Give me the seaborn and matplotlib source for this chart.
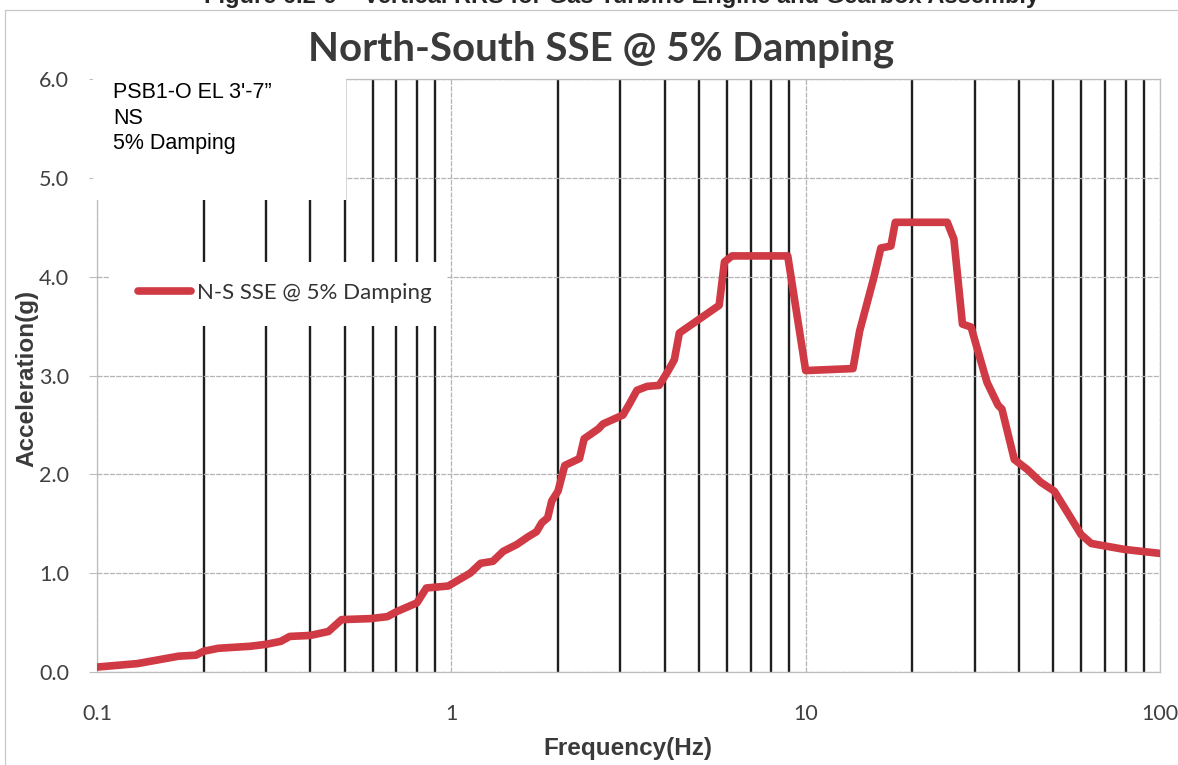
import numpy as np
import pandas as pd
import matplotlib
matplotlib.use("Agg")
import matplotlib.pyplot as plt
import seaborn as sns
from matplotlib.patches import Rectangle
from matplotlib.lines import Line2D
from matplotlib.ticker import FixedLocator, NullFormatter

# response spectrum
freq = [0.10, 0.13, 0.17, 0.19, 0.20, 0.22, 0.27, 0.30, 0.33, 0.35,
        0.40, 0.45, 0.49, 0.59, 0.66, 0.70, 0.80, 0.85, 0.98, 1.13,
        1.21, 1.31, 1.40, 1.53, 1.65, 1.74, 1.80, 1.87, 1.92, 2.00,
        2.09, 2.30, 2.37, 2.60, 2.68, 3.05, 3.19, 3.34, 3.57, 3.86,
        4.08, 4.26, 4.40, 5.70, 5.90, 6.20, 8.90, 10.0, 13.6, 14.2,
        15.6, 16.3, 17.4, 17.9, 25.1, 26.2, 27.7, 29.3, 30.5, 32.5,
        34.9, 35.8, 38.8, 42.2, 46.1, 50.3, 54.9, 59.9, 64.0, 79.5,
        100.0]
accel = [0.05, 0.085, 0.16, 0.17, 0.21, 0.24, 0.26, 0.28, 0.31, 0.36,
         0.37, 0.41, 0.53, 0.54, 0.56, 0.61, 0.70, 0.85, 0.87, 1.00,
         1.10, 1.12, 1.22, 1.29, 1.37, 1.42, 1.51, 1.56, 1.73, 1.83,
         2.09, 2.16, 2.36, 2.46, 2.51, 2.60, 2.72, 2.85, 2.89, 2.90,
         3.04, 3.16, 3.43, 3.71, 4.15, 4.21, 4.21, 3.05, 3.07, 3.45,
         4.00, 4.29, 4.31, 4.55, 4.55, 4.38, 3.52, 3.49, 3.27, 2.93,
         2.70, 2.66, 2.15, 2.05, 1.92, 1.83, 1.61, 1.39, 1.30, 1.24,
         1.20]

series_name = "N-S SSE @ 5% Damping"
x_ticks = [0.1, 1, 10, 100]
x_ticklabels = ["0.1", "1", "10", "100"]
y_ticks = [0, 1, 2, 3, 4, 5, 6]
note_lines = ["PSB1-O EL 3'-7\u201d", "NS", "5% Damping"]

df = pd.DataFrame({"Frequency": freq, "Acceleration": accel})

sns.set_style("white")
plt.rcParams["font.family"] = ["Lato", "DejaVu Sans"]
arial = ["Liberation Sans", "DejaVu Sans"]

W, H = 1178, 765
fig = plt.figure(figsize=(W / 100, H / 100), dpi=100)
ax = fig.add_axes([97 / W, 1 - 672 / H, 1063 / W, 593 / H])

red = "#d03a44"
sns.lineplot(data=df, x="Frequency", y="Acceleration", ax=ax, color=red,
             linewidth=5.5, estimator=None, sort=False, label=series_name,
             zorder=5, solid_capstyle="round", solid_joinstyle="round")

ax.set_xscale("log")
ax.set_xlim(0.1, 100)
ax.set_ylim(0, 6)
ax.xaxis.set_major_locator(FixedLocator(x_ticks))
ax.set_xticklabels(x_ticklabels)
minor = [m * d for d in [0.1, 1, 10] for m in range(2, 10)]
ax.xaxis.set_minor_locator(FixedLocator(minor))
ax.xaxis.set_minor_formatter(NullFormatter())
ax.set_yticks(y_ticks)
ax.set_yticklabels([f"{v:.1f}" for v in y_ticks])

# grid: light major lines, heavy black minor verticals
ax.grid(which="major", axis="both", color="#b4b4b4", linewidth=0.9,
        linestyle=(0, (4, 1)))
ax.grid(which="minor", axis="x", color="#1e1e1e", linewidth=1.7)
ax.set_axisbelow(True)

for s in ax.spines.values():
    s.set_color("#bdbdbd")
    s.set_linewidth(0.9)
    s.set_visible(True)

ax.tick_params(axis="y", which="major", length=6, color="#bdbdbd", pad=14,
               labelsize=15.5, labelcolor="#404040", left=True)
ax.tick_params(axis="x", which="both", length=0, pad=23, labelsize=15.5,
               labelcolor="#404040")

ax.set_xlabel("")
ax.set_ylabel("")

# white boxes from the original chart hiding the grid
ax.add_patch(Rectangle((-0.004, 0.796), 0.238, 0.21, transform=ax.transAxes,
                       facecolor="white", edgecolor="none", zorder=3,
                       clip_on=False))
ax.add_patch(Rectangle((0.012, 0.583), 0.317, 0.108, transform=ax.transAxes,
                       facecolor="white", edgecolor="none", zorder=3))

for i, t in enumerate(note_lines):
    ax.text(16 / 1063, (672 - 93 - 25 * i) / 593, t, transform=ax.transAxes,
            fontsize=15.5, family=arial, va="center", ha="left",
            color="black", zorder=6)

leg = ax.legend(loc="center left", bbox_to_anchor=(41 / 1063, (672 - 293) / 593),
                frameon=False, fontsize=16, handlelength=2.4,
                handletextpad=0.25, borderpad=0, borderaxespad=0)
leg.set_zorder(6)
for t in leg.get_texts():
    t.set_color("#333333")

# titles
fig.text(621 / W, 1 - 3 / H,
         "Figure 6.2-9 \u2013 Vertical RRS for Gas Turbine Engine and Gearbox Assembly",
         ha="center", va="baseline", fontsize=17, fontweight="bold",
         family=arial)
fig.text(601 / W, 1 - 61 / H, "North-South SSE @ 5% Damping", ha="center",
         va="baseline", fontsize=29, fontweight="bold", color="#3a3a3a")
fig.text(628 / W, 1 - 749 / H, "Frequency(Hz)", ha="center", va="center",
         fontsize=17.5, fontweight="bold", color="#3a3a3a", family=arial)
fig.text(27 / W, 1 - 378 / H, "Acceleration(g)", ha="center", va="center",
         rotation=90, fontsize=17.5, fontweight="bold", color="#3a3a3a",
         family=arial)

# outer chart frame
fig.add_artist(Line2D([5 / W, 1.0], [1 - 10 / H, 1 - 10 / H], color="#c8c8c8",
                      linewidth=0.9))
fig.add_artist(Line2D([5 / W, 5 / W], [0.0, 1 - 10 / H], color="#c8c8c8",
                      linewidth=0.9))

fig.savefig("out.png", dpi=100)
